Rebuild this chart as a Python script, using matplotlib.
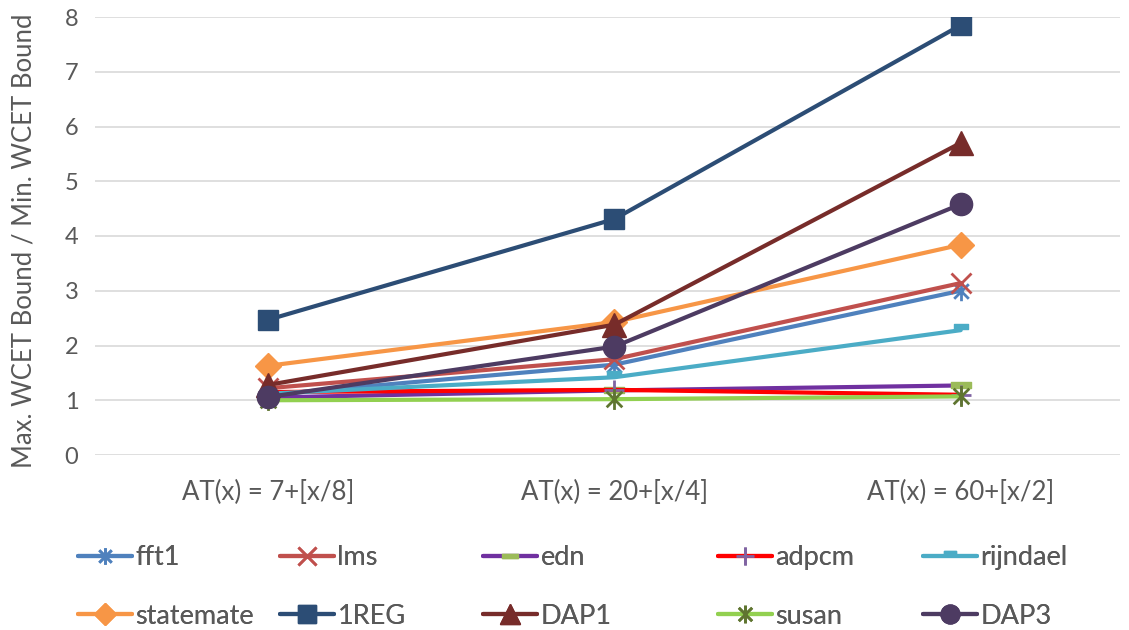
import matplotlib.pyplot as plt
from matplotlib.path import Path

plt.rcParams['font.family'] = ['Lato', 'DejaVu Sans']

# data
kategoriyalar = ['AT(x) = 7+[x/8]', 'AT(x) = 20+[x/4]', 'AT(x) = 60+[x/2]']
nomlar = ['fft1', 'lms', 'edn', 'adpcm', 'rijndael',
          'statemate', '1REG', 'DAP1', 'susan', 'DAP3']
fft1 = [1.10, 1.65, 3.00]
lms = [1.22, 1.75, 3.14]
edn = [1.05, 1.18, 1.27]
adpcm = [1.15, 1.19, 1.10]
rijndael = [1.12, 1.42, 2.28]
statemate = [1.63, 2.43, 3.84]
reg1 = [2.47, 4.31, 7.85]
dap1 = [1.28, 2.38, 5.70]
susan = [1.00, 1.02, 1.07]
dap3 = [1.06, 1.98, 4.58]
qiymatlar = [fft1, lms, edn, adpcm, rijndael, statemate, reg1, dap1, susan, dap3]

# markers
yulduz = Path([(0, -1), (0, 1), (-0.75, -0.75), (0.75, 0.75), (-0.75, 0.75), (0.75, -0.75)],
              [Path.MOVETO, Path.LINETO, Path.MOVETO, Path.LINETO, Path.MOVETO, Path.LINETO])
chiziqcha = Path([(-1, -0.3), (1, -0.3), (1, 0.3), (-1, 0.3), (-1, -0.3)],
                 [Path.MOVETO, Path.LINETO, Path.LINETO, Path.LINETO, Path.CLOSEPOLY])
kichik = Path([(-1, 0.2), (1, 0.2), (1, 0.9), (-1, 0.9), (-1, 0.2)],
              [Path.MOVETO, Path.LINETO, Path.LINETO, Path.LINETO, Path.CLOSEPOLY])

uslublar = [
    dict(color='#4F81BD', marker=yulduz, ms=14, mec='#4F81BD', mfc='none', mew=2),
    dict(color='#C0504D', marker='x', ms=15, mec='#C0504D', mew=2),
    dict(color='#7030A0', marker=chiziqcha, ms=14, mec='#9BBB59', mfc='#9BBB59', mew=1),
    dict(color='#FF0000', marker='+', ms=15, mec='#8064A2', mew=2),
    dict(color='#4BACC6', marker=kichik, ms=10, mec='#4BACC6', mfc='#4BACC6', mew=1),
    dict(color='#F79646', marker='D', ms=13, mec='#F79646', mfc='#F79646'),
    dict(color='#2C4D75', marker='s', ms=15, mec='#2C4D75', mfc='#2C4D75'),
    dict(color='#772C2A', marker='^', ms=17, mec='#772C2A', mfc='#772C2A'),
    dict(color='#92D050', marker=yulduz, ms=15, mec='#5F7530', mfc='none', mew=2),
    dict(color='#4D3B62', marker='o', ms=16, mec='#4D3B62', mfc='#4D3B62'),
]

fig = plt.figure(figsize=(11.29, 6.3), dpi=100)
ax = fig.add_axes([95 / 1129, 175 / 630, 1025 / 1129, 438 / 630])

x = list(range(len(kategoriyalar)))
chiziqlar = []
for nom, y, u in zip(nomlar, qiymatlar, uslublar):
    l, = ax.plot(x, y, label=nom, lw=3, solid_capstyle='round', **u)
    chiziqlar.append(l)

ax.set_xlim(-0.5, 2.46)
ax.set_ylim(0, 8)
ax.set_yticks(range(0, 9))
ax.set_xticks(x)
ax.set_xticklabels(kategoriyalar)
ax.tick_params(length=0, labelsize=17, labelcolor='#595959')
ax.tick_params(axis='x', labelsize=18.5, pad=18)
ax.tick_params(axis='y', pad=12)
ax.grid(axis='y', color='#D9D9D9', lw=1.2)
ax.set_axisbelow(True)
for s in ax.spines.values():
    s.set_visible(False)
ax.set_ylabel('Max. WCET Bound / Min. WCET Bound', fontsize=18.5, color='#595959')
ax.yaxis.set_label_coords(-0.057, 0.49)

# legend: one small legend per column, rows like in the original
ustun_x = [78, 280, 483, 718, 923]
for k, x0 in enumerate(ustun_x):
    juft = [k, k + 5]
    lg = fig.legend([chiziqlar[i] for i in juft], [nomlar[i] for i in juft],
                    loc='upper left', bbox_to_anchor=(x0 / 1129, 1 - 545 / 630),
                    frameon=False, fontsize=19.5, labelcolor='#595959',
                    handlelength=2.0, handletextpad=0.12, borderpad=0,
                    borderaxespad=0, labelspacing=1.25, markerscale=0.85)
    fig.add_artist(lg)

fig.savefig('out.png', dpi=100)
